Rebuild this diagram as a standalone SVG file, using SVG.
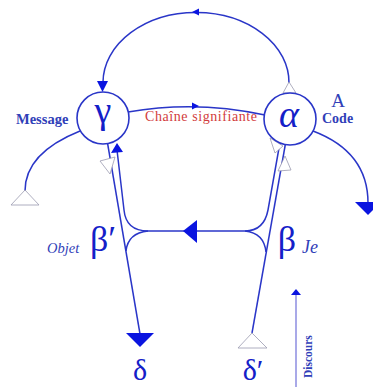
<svg xmlns="http://www.w3.org/2000/svg" width="373" height="387" viewBox="0 0 373 387">
<style>
.ln{fill:none;stroke:#2a36c8;stroke-width:1.5}
.fa{fill:#0a14e0;stroke:none}
.oa{fill:#fff;stroke:#9a9ab0;stroke-width:0.8}
.nd{fill:#fff;stroke:#2a36c8;stroke-width:1.6}
.gk{font-family:"Liberation Serif","DejaVu Serif",serif;fill:#1420c8;text-anchor:middle}
.lb{font-family:"Liberation Serif","DejaVu Serif",serif;fill:#3040b8}
.rd{font-family:"Liberation Serif","DejaVu Serif",serif;fill:#d23c3c}
</style>
<rect width="373" height="387" fill="#fff"/>
<g id="connectors">
  <path class="ln" d="M289,83 A93,70 0 0 0 103,82"/>
  <polygon class="fa" points="192,12 199,8.5 199,15.5"/>
  <polygon class="oa" points="289,82 283,93 296,93"/>
  <polygon class="fa" points="97,81 108,81 102.5,92"/>
  <path class="ln" d="M128,112 Q196,100 265,115"/>
  <polygon class="fa" points="199,106 192,102.5 192,109.5"/>
  <path class="ln" d="M80,131 C45,145 25,165 25,191"/>
  <polygon class="oa" points="25,190 11,205 39,205"/>
  <path class="ln" d="M313,131 C350,145 368,170 368,203"/>
  <polygon class="fa" points="355,202 381,202 368,215"/>
  <path class="ln" d="M107,140 L140,334"/>
  <path class="ln" d="M117,150 L124,210 Q126,231 148,231"/>
  <path class="ln" d="M148,231 Q128,233 126,251"/>
  <polygon class="fa" points="117,143 111,153 123,152"/>
  <polygon class="oa" points="100,161 115,157 110,174"/>
  <polygon class="fa" points="126,333 154,333 140,347"/>
  <path class="ln" d="M287,135 L252,333"/>
  <path class="ln" d="M279,148 L268,210 Q264,231 245,231"/>
  <path class="ln" d="M245,231 Q264,233 266,252"/>
  <polygon class="oa" points="270,138 283,146 275,153"/>
  <polygon class="oa" points="285,156 278,171 291,170"/>
  <polygon class="oa" points="252,333 238,348 267,348"/>
  <path class="ln" d="M148,231 L245,231"/>
  <polygon class="fa" points="183,231 197,220 197,243"/>
  <path d="M296,293 L296,387" fill="none" stroke="#8c8ce0" stroke-width="1.5"/>
  <polygon class="fa" points="291,295 301,295 296,289"/>
</g>
<g id="node-gamma">
  <circle class="nd" cx="103" cy="118" r="26"/>
  <text class="gk" x="103" y="123" font-size="38">γ</text>
</g>
<g id="node-alpha">
  <circle class="nd" cx="290" cy="119" r="26"/>
  <text class="gk" x="289" y="127" font-size="38" font-style="italic">α</text>
</g>
<g id="node-beta-prime">
  <text class="gk" x="103" y="251" font-size="36">β′</text>
  <text class="lb" x="47" y="253" font-size="14.5" font-style="italic">Objet</text>
</g>
<g id="node-beta">
  <text class="gk" x="287" y="251" font-size="36">β</text>
  <text class="lb" x="302" y="253" font-size="18" font-style="italic" fill="#1420c8">Je</text>
</g>
<g id="node-delta">
  <text class="gk" x="140" y="380" font-size="30">δ</text>
</g>
<g id="node-delta-prime">
  <text class="gk" x="253" y="380" font-size="30">δ′</text>
</g>
<g id="labels">
  <text class="lb" x="16" y="124" font-size="14.5" font-weight="bold">Message</text>
  <text class="rd" x="145" y="121" font-size="14" textLength="112">Chaîne signifiante</text>
  <text class="lb" x="338" y="107" font-size="19" text-anchor="middle" fill="#2030c0">A</text>
  <text class="lb" x="322" y="123" font-size="14" font-weight="bold">Code</text>
  <text class="lb" transform="translate(312,378) rotate(-90)" font-size="11.5" font-weight="bold">Discours</text>
</g>
</svg>
